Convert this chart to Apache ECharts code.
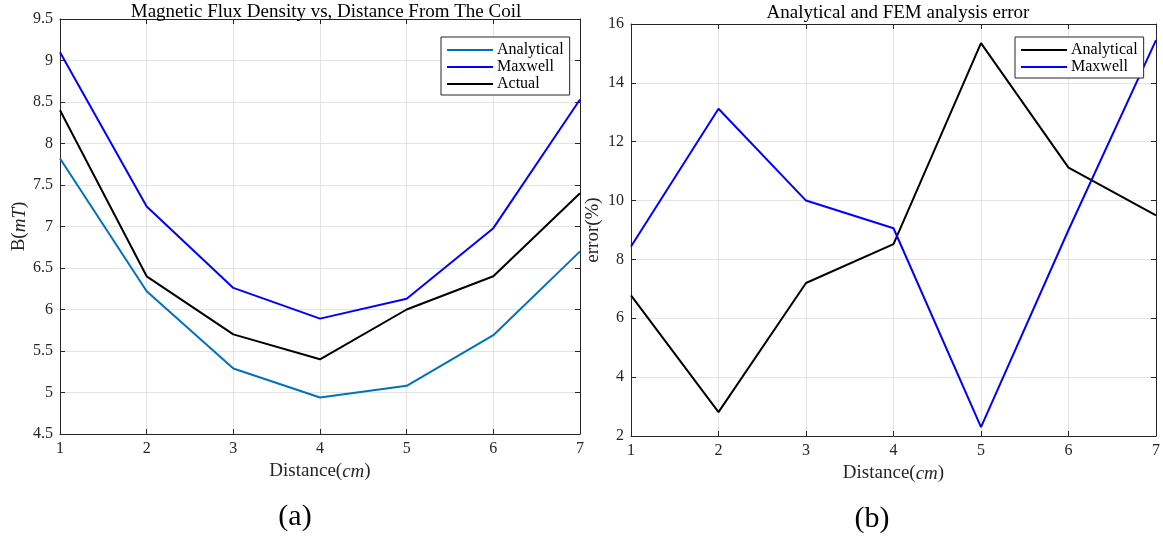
<!DOCTYPE html>
<html>
<head>
<meta charset="utf-8">
<script src="https://cdn.jsdelivr.net/npm/echarts@6/dist/echarts.min.js"></script>
<style>
  html, body { margin: 0; padding: 0; background: #fff; }
  #wrap { position: relative; width: 1163px; height: 537px; }
  #chartA { position: absolute; left: 0; top: 0; width: 590px; height: 537px; }
  #chartB { position: absolute; left: 570px; top: 0; width: 593px; height: 537px; }
</style>
</head>
<body>
<div id="wrap">
  <div id="chartA"></div>
  <div id="chartB"></div>
</div>
<script>
// Distance from the coil (cm)
const distance = [1, 2, 3, 4, 5, 6, 7];

// Magnetic flux density, mT
const fluxAnalytical = [7.82, 6.22, 5.29, 4.94, 5.08, 5.69, 6.70];
const fluxMaxwell    = [9.10, 7.24, 6.26, 5.89, 6.13, 6.98, 8.53];
const fluxActual     = [8.40, 6.40, 5.70, 5.40, 6.00, 6.40, 7.40];

// Error against the measured values, %
const errAnalytical = [6.78, 2.81, 7.20, 8.52, 15.35, 11.12, 9.50];
const errMaxwell    = [8.44, 13.12, 10.00, 9.06, 2.30, 9.00, 15.45];

const FONT = '"Liberation Serif", "DejaVu Serif", serif';
const INK = '#262626';
const GRIDLINE = '#e3e3e3';

const pairs = (xs, ys) => xs.map((x, i) => [x, ys[i]]);

function lineSeries(name, color, xs, ys) {
  return {
    type: 'line', name, data: pairs(xs, ys),
    symbol: 'none', lineStyle: { color, width: 2 }, itemStyle: { color },
    xAxisIndex: 0, yAxisIndex: 0, z: 3
  };
}

function boxAxes(xMin, xMax, yMin, yMax, yInt, xName, yName, yGap) {
  const tickIn = { show: true, inside: true, length: 5, lineStyle: { color: INK, width: 1 } };
  const lineStyle = { show: true, lineStyle: { color: INK, width: 1 } };
  const rich = {
    n: { fontFamily: FONT, fontSize: 19, color: INK },
    i: { fontFamily: FONT, fontSize: 19, color: INK, fontStyle: 'italic' }
  };
  return {
    xAxis: [
      {
        type: 'value', min: xMin, max: xMax, interval: 1, position: 'bottom',
        axisLine: lineStyle, axisTick: tickIn,
        axisLabel: { color: INK, fontFamily: FONT, fontSize: 16, margin: 7 },
        splitLine: { show: true, lineStyle: { color: GRIDLINE, width: 1 } },
        name: xName, nameLocation: 'middle', nameGap: 28, nameMoveOverlap: false,
        nameTextStyle: { rich }
      },
      {
        type: 'value', min: xMin, max: xMax, interval: 1, position: 'top',
        axisLine: lineStyle, axisTick: tickIn, axisLabel: { show: false },
        splitLine: { show: false }
      }
    ],
    yAxis: [
      {
        type: 'value', min: yMin, max: yMax, interval: yInt, position: 'left',
        axisLine: lineStyle, axisTick: tickIn,
        axisLabel: { color: INK, fontFamily: FONT, fontSize: 16, margin: 7 },
        splitLine: { show: true, lineStyle: { color: GRIDLINE, width: 1 } },
        name: yName, nameLocation: 'middle', nameGap: yGap, nameRotate: 90, nameMoveOverlap: false,
        nameTextStyle: { rich }
      },
      {
        type: 'value', min: yMin, max: yMax, interval: yInt, position: 'right',
        axisLine: lineStyle, axisTick: tickIn, axisLabel: { show: false },
        splitLine: { show: false }
      }
    ]
  };
}

function legendBox(left, top, names) {
  return {
    orient: 'vertical', left, top, data: names,
    icon: 'rect', itemWidth: 46, itemHeight: 2, itemGap: 1,
    padding: [5, 6, 3, 6],
    borderColor: INK, borderWidth: 1, backgroundColor: '#fff',
    selectedMode: false,
    textStyle: { fontFamily: FONT, fontSize: 16, color: '#000', lineHeight: 16, padding: [0, 0, 0, -1] }
  };
}

// (a) flux density against distance
const chartA = echarts.init(document.getElementById('chartA'), null, { renderer: 'canvas' });
chartA.setOption(Object.assign({
  animation: false,
  title: [
    { text: 'Magnetic Flux Density vs, Distance From The Coil', left: 321, top: -2, textAlign: 'center',
      textStyle: { fontFamily: FONT, fontSize: 19, fontWeight: 'normal', color: '#000' } },
    { text: '(a)', left: 290, top: 497, textAlign: 'center',
      textStyle: { fontFamily: FONT, fontSize: 30, fontWeight: 'normal', color: '#000' } }
  ],
  grid: { left: 60, right: 10, top: 19, bottom: 103, containLabel: false, outerBoundsMode: 'none' },
  legend: legendBox(441, 37, ['Analytical', 'Maxwell', 'Actual']),
  series: [
    lineSeries('Analytical', '#0072BD', distance, fluxAnalytical),
    lineSeries('Maxwell', '#0000FF', distance, fluxMaxwell),
    lineSeries('Actual', '#000000', distance, fluxActual)
  ]
}, boxAxes(1, 7, 4.5, 9.5, 0.5, '{n|Distance(}{i|cm}{n|)}', '{n|B(}{i|mT}{n|)}', 31)));

// (b) percentage error of each method
const chartB = echarts.init(document.getElementById('chartB'), null, { renderer: 'canvas' });
chartB.setOption(Object.assign({
  animation: false,
  title: [
    { text: 'Analytical and FEM analysis error', left: 323, top: -1, textAlign: 'center',
      textStyle: { fontFamily: FONT, fontSize: 19, fontWeight: 'normal', color: '#000' } },
    { text: '(b)', left: 297, top: 499, textAlign: 'center',
      textStyle: { fontFamily: FONT, fontSize: 30, fontWeight: 'normal', color: '#000' } }
  ],
  grid: { left: 61, right: 7, top: 24, bottom: 101, containLabel: false, outerBoundsMode: 'none' },
  legend: legendBox(445, 37, ['Analytical', 'Maxwell']),
  series: [
    lineSeries('Analytical', '#000000', distance, errAnalytical),
    lineSeries('Maxwell', '#0000FF', distance, errMaxwell)
  ]
}, boxAxes(1, 7, 2, 16, 2, '{n|Distance(}{i|cm}{n|)}', '{n|error(%)}', 28)));
</script>
</body>
</html>
